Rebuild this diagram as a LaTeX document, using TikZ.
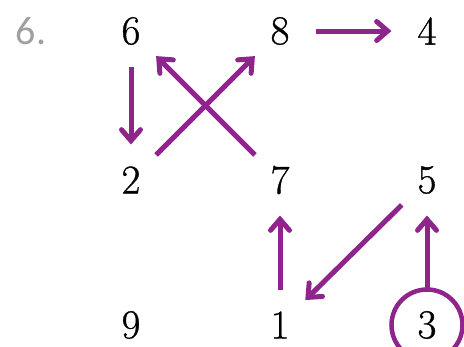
\documentclass[tikz,border=0pt]{standalone}
\usepackage{fontspec}
\newfontfamily\labelfont{Carlito}
\newfontfamily\digitfont{Latin Modern Roman}[FakeBold=0.9]
\usetikzlibrary{arrows.meta}
\definecolor{arrowpurple}{RGB}{142,36,140}
\definecolor{labelgray}{RGB}{160,160,160}
\begin{document}
\begin{tikzpicture}[
  x=1pt, y=-1pt,
  num/.style={circle,minimum size=71pt,inner sep=0pt,outer sep=0pt,
    font=\digitfont\fontsize{41}{48}\selectfont},
  mark3/.style={draw=arrowpurple,line width=4.5pt},
  link/.style={draw=arrowpurple,line width=5pt,
    -{Straight Barb[length=11pt,width=19pt,line cap=round,line join=miter]}},
  lbl/.style={font=\labelfont\fontsize{40}{48}\selectfont,text=labelgray}]
\useasboundingbox (0,0) rectangle (464,346);
\node[lbl] (item) at (31,31) {6.};
\node[num] (n6) at (131,31) {6};
\node[num] (n8) at (280,31) {8};
\node[num] (n4) at (427,31) {4};
\node[num] (n2) at (131,180) {2};
\node[num] (n7) at (280,180) {7};
\node[num] (n5) at (427,180) {5};
\node[num] (n9) at (131,325) {9};
\node[num] (n1) at (280,325) {1};
\node[num,mark3] (n3) at (427,325) {3};
% arrows
\draw[link] (n6) -- (n2);
\draw[link] (n2) -- (n8);
\draw[link] (n7) -- (n6);
\draw[link] (n8) -- (n4);
\draw[link] (n1) -- (n7);
\draw[link] (n5) -- (n1);
\draw[link] (n3) -- (n5);
\end{tikzpicture}
\end{document}
